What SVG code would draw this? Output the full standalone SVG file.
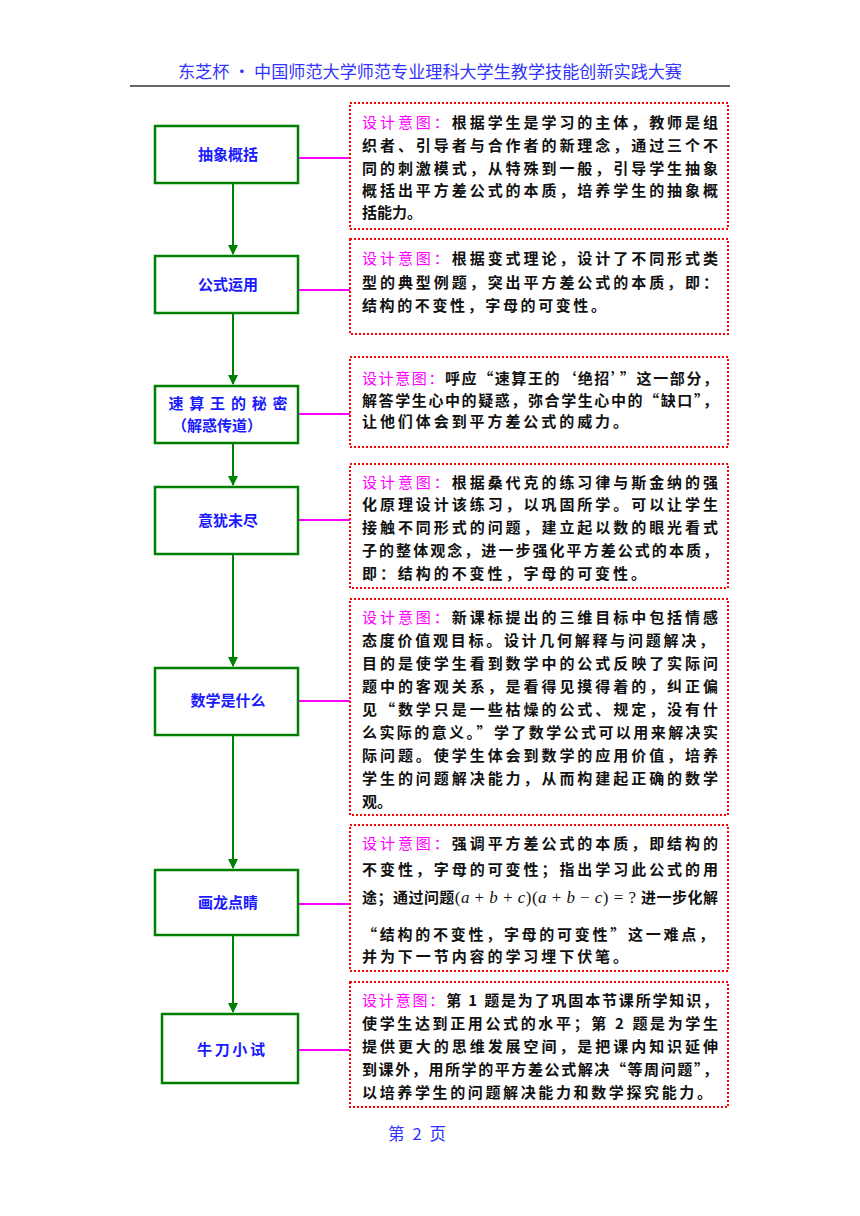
<svg xmlns="http://www.w3.org/2000/svg" width="860" height="1216" viewBox="0 0 860 1216">
<defs>
<style>
.hdr{font-family:"Noto Sans CJK SC",sans-serif;font-size:16.5px;fill:#3333ff}
.node rect{fill:#fff;stroke:#008000;stroke-width:2.5}
.lbl{font-family:"Noto Sans CJK SC",sans-serif;font-size:15px;font-weight:bold;fill:#1a1aff;text-anchor:middle}
.note rect{fill:#fff;stroke:#ff0000;stroke-width:2;stroke-dasharray:2 2}
.tx{font-family:"Noto Sans CJK SC",sans-serif;font-size:15px;font-weight:bold;fill:#111}
.mg{fill:#ff00ff;font-weight:normal}
.flow{stroke:#008000;stroke-width:2;fill:none}
.link{stroke:#ff00ff;stroke-width:2;fill:none}
.m{font-family:"Liberation Serif",serif;font-weight:normal;font-size:17px}
.mi{font-style:italic}
</style>
<marker id="ah" markerWidth="10" markerHeight="10" refX="9" refY="5" orient="auto" markerUnits="userSpaceOnUse">
<path d="M0,0 L10,5 L0,10 Z" fill="#008000"/>
</marker>
</defs>
<rect width="860" height="1216" fill="#fff"/>
<g id="header">
<text class="hdr" x="430" y="78" text-anchor="middle" textLength="504" lengthAdjust="spacingAndGlyphs">东芝杯 • 中国师范大学师范专业理科大学生教学技能创新实践大赛</text>
<line x1="130" y1="86" x2="730" y2="86" stroke="#666" stroke-width="2"/>
</g>
<g id="connectors">
<line class="flow" x1="233" y1="183" x2="233" y2="254" marker-end="url(#ah)"/>
<line class="flow" x1="233" y1="313" x2="233" y2="384" marker-end="url(#ah)"/>
<line class="flow" x1="233" y1="443" x2="233" y2="485" marker-end="url(#ah)"/>
<line class="flow" x1="233" y1="554" x2="233" y2="666" marker-end="url(#ah)"/>
<line class="flow" x1="233" y1="735" x2="233" y2="868" marker-end="url(#ah)"/>
<line class="flow" x1="233" y1="935" x2="233" y2="1012" marker-end="url(#ah)"/>
<line class="link" x1="298" y1="158" x2="350" y2="158"/>
<line class="link" x1="298" y1="290" x2="350" y2="290"/>
<line class="link" x1="298" y1="414" x2="350" y2="414"/>
<line class="link" x1="298" y1="520" x2="350" y2="520"/>
<line class="link" x1="298" y1="701" x2="350" y2="701"/>
<line class="link" x1="298" y1="904" x2="350" y2="904"/>
<line class="link" x1="298" y1="1050" x2="350" y2="1050"/>
</g>
<g id="n1" class="node"><rect x="155" y="126" width="143" height="57"/><text class="lbl" x="228" y="160">抽象概括</text></g>
<g id="n2" class="node"><rect x="155" y="256" width="143" height="57"/><text class="lbl" x="228" y="290">公式运用</text></g>
<g id="n3" class="node"><rect x="155" y="386" width="143" height="57"/><text class="lbl" x="228" y="409" textLength="119" lengthAdjust="spacing">速算王的秘密</text><text class="lbl" x="217" y="431">（解惑传道）</text></g>
<g id="n4" class="node"><rect x="155" y="487" width="143" height="67"/><text class="lbl" x="228" y="526">意犹未尽</text></g>
<g id="n5" class="node"><rect x="155" y="668" width="143" height="67"/><text class="lbl" x="228" y="706">数学是什么</text></g>
<g id="n6" class="node"><rect x="155" y="870" width="143" height="65"/><text class="lbl" x="228" y="908">画龙点睛</text></g>
<g id="n7" class="node"><rect x="162" y="1014" width="136" height="69"/><text class="lbl" x="231" y="1055" textLength="68" lengthAdjust="spacing">牛刀小试</text></g>

<g id="d1" class="note"><rect x="350" y="103" width="378" height="126"/>
<text class="tx" x="362" y="128" textLength="356" lengthAdjust="spacing"><tspan class="mg">设计意图：</tspan>根据学生是学习的主体，教师是组</text>
<text class="tx" x="362" y="151" textLength="356" lengthAdjust="spacing">织者、引导者与合作者的新理念，通过三个不</text>
<text class="tx" x="362" y="174" textLength="356" lengthAdjust="spacing">同的刺激模式，从特殊到一般，引导学生抽象</text>
<text class="tx" x="362" y="196" textLength="356" lengthAdjust="spacing">概括出平方差公式的本质，培养学生的抽象概</text>
<text class="tx" x="362" y="218">括能力。</text>
</g>
<g id="d2" class="note"><rect x="350" y="239" width="378" height="95"/>
<text class="tx" x="362" y="264" textLength="356" lengthAdjust="spacing"><tspan class="mg">设计意图：</tspan>根据变式理论，设计了不同形式类</text>
<text class="tx" x="362" y="288" textLength="356" lengthAdjust="spacing">型的典型例题，突出平方差公式的本质，即：</text>
<text class="tx" x="362" y="311" textLength="244" lengthAdjust="spacing">结构的不变性，字母的可变性。</text>
</g>
<g id="d3" class="note"><rect x="350" y="357" width="378" height="90"/>
<text class="tx" x="362" y="384" textLength="356" lengthAdjust="spacing"><tspan class="mg">设计意图：</tspan>呼应“速算王的‘绝招’”这一部分，</text>
<text class="tx" x="362" y="406" textLength="356" lengthAdjust="spacing">解答学生心中的疑惑，弥合学生心中的“缺口”，</text>
<text class="tx" x="362" y="427" textLength="266" lengthAdjust="spacing">让他们体会到平方差公式的威力。</text>
</g>
<g id="d4" class="note"><rect x="350" y="464" width="378" height="124"/>
<text class="tx" x="362" y="488" textLength="356" lengthAdjust="spacing"><tspan class="mg">设计意图：</tspan>根据桑代克的练习律与斯金纳的强</text>
<text class="tx" x="362" y="510" textLength="356" lengthAdjust="spacing">化原理设计该练习，以巩固所学。可以让学生</text>
<text class="tx" x="362" y="533" textLength="356" lengthAdjust="spacing">接触不同形式的问题，建立起以数的眼光看式</text>
<text class="tx" x="362" y="556" textLength="356" lengthAdjust="spacing">子的整体观念，进一步强化平方差公式的本质，</text>
<text class="tx" x="362" y="579" textLength="284" lengthAdjust="spacing">即：结构的不变性，字母的可变性。</text>
</g>
<g id="d5" class="note"><rect x="350" y="599" width="378" height="216"/>
<text class="tx" x="362" y="623" textLength="356" lengthAdjust="spacing"><tspan class="mg">设计意图：</tspan>新课标提出的三维目标中包括情感</text>
<text class="tx" x="362" y="646" textLength="352" lengthAdjust="spacing">态度价值观目标。设计几何解释与问题解决，</text>
<text class="tx" x="362" y="669" textLength="356" lengthAdjust="spacing">目的是使学生看到数学中的公式反映了实际问</text>
<text class="tx" x="362" y="692" textLength="356" lengthAdjust="spacing">题中的客观关系，是看得见摸得着的，纠正偏</text>
<text class="tx" x="362" y="715" textLength="356" lengthAdjust="spacing">见“数学只是一些枯燥的公式、规定，没有什</text>
<text class="tx" x="362" y="738" textLength="356" lengthAdjust="spacing">么实际的意义。”学了数学公式可以用来解决实</text>
<text class="tx" x="362" y="761" textLength="356" lengthAdjust="spacing">际问题。使学生体会到数学的应用价值，培养</text>
<text class="tx" x="362" y="784" textLength="356" lengthAdjust="spacing">学生的问题解决能力，从而构建起正确的数学</text>
<text class="tx" x="362" y="807">观。</text>
</g>
<g id="d6" class="note"><rect x="350" y="825" width="378" height="146"/>
<text class="tx" x="362" y="849" textLength="356" lengthAdjust="spacing"><tspan class="mg">设计意图：</tspan>强调平方差公式的本质，即结构的</text>
<text class="tx" x="362" y="875" textLength="356" lengthAdjust="spacing">不变性，字母的可变性；指出学习此公式的用</text>
<text class="tx" x="362" y="903" textLength="356" lengthAdjust="spacing">途；通过问题<tspan class="m">(<tspan class="mi">a</tspan> + <tspan class="mi">b</tspan> + <tspan class="mi">c</tspan>)(<tspan class="mi">a</tspan> + <tspan class="mi">b</tspan> − <tspan class="mi">c</tspan>) = ? </tspan>进一步化解</text>
<text class="tx" x="362" y="940" textLength="352" lengthAdjust="spacing">“结构的不变性，字母的可变性”这一难点，</text>
<text class="tx" x="362" y="962" textLength="266" lengthAdjust="spacing">并为下一节内容的学习埋下伏笔。</text>
</g>
<g id="d7" class="note"><rect x="350" y="982" width="378" height="125"/>
<text class="tx" x="362" y="1006" textLength="356" lengthAdjust="spacing"><tspan class="mg">设计意图：</tspan>第 1 题是为了巩固本节课所学知识，</text>
<text class="tx" x="362" y="1029" textLength="356" lengthAdjust="spacing">使学生达到正用公式的水平；第 2 题是为学生</text>
<text class="tx" x="362" y="1052" textLength="356" lengthAdjust="spacing">提供更大的思维发展空间，是把课内知识延伸</text>
<text class="tx" x="362" y="1075" textLength="356" lengthAdjust="spacing">到课外，用所学的平方差公式解决“等周问题”，</text>
<text class="tx" x="362" y="1098" textLength="350" lengthAdjust="spacing">以培养学生的问题解决能力和数学探究能力。</text>
</g>
<g id="footer"><text class="hdr" x="388" y="1140" textLength="58" lengthAdjust="spacing">第 2 页</text></g>
</svg>
